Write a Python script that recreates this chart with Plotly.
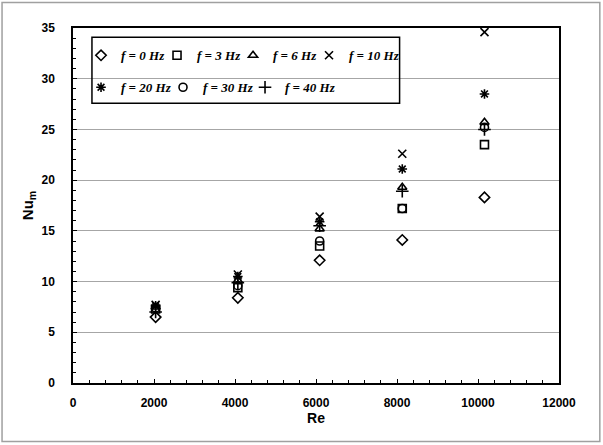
import plotly.graph_objects as go

# Data
re_values = [2040, 4070, 6090, 8130, 10160]
nu_f0 = [6.5, 8.4, 12.1, 14.1, 18.3]
nu_f3 = [7.3, 9.4, 13.5, 17.2, 23.5]
nu_f6 = [7.5, 10.1, 15.2, 19.3, 25.7]
nu_f10 = [7.7, 10.7, 16.4, 22.6, 34.6]
nu_f20 = [7.6, 10.5, 15.9, 21.1, 28.5]
nu_f30 = [7.4, 9.6, 14.0, 17.2, 25.2]
nu_f40 = [7.0, 9.9, 15.5, 18.9, 25.0]

series = [
    ("<i>f</i> = 0 Hz", nu_f0, "diamond-open", 8, "legend", 31),
    ("<i>f</i> = 3 Hz", nu_f3, "square-open", 8, "legend", 31),
    ("<i>f</i> = 6 Hz", nu_f6, "triangle-up-open", 8, "legend", 31),
    ("<i>f</i> = 10 Hz", nu_f10, "x-thin-open", 8, "legend", 62),
    ("<i>f</i> = 20 Hz", nu_f20, "asterisk-open", 8, "legend2", 37),
    ("<i>f</i> = 30 Hz", nu_f30, "circle-open", 8, "legend2", 37),
    ("<i>f</i> = 40 Hz", nu_f40, "cross-thin-open", 9, "legend2", 62),
]

fig = go.Figure()
for name, vals, sym, size, leg, lw in series:
    fig.add_trace(go.Scatter(
        x=re_values, y=vals, mode="markers", name=name, legend=leg, legendwidth=lw,
        marker=dict(symbol=sym, size=size, color="black",
                    line=dict(color="black", width=1.6)),
    ))

legend_font = dict(family="Liberation Serif", size=13, color="black",
                   weight="bold", style="italic")

fig.update_layout(
    width=603, height=445,
    margin=dict(l=73, r=44, t=28, b=62, autoexpand=False),
    paper_bgcolor="white", plot_bgcolor="white",
    font=dict(family="Liberation Sans", color="black"),
    showlegend=True,
    legend=dict(orientation="h", x=0.0165, xanchor="left", y=0.923, yanchor="middle",
                bgcolor="rgba(0,0,0,0)", borderwidth=0, font=legend_font,
                itemwidth=30, tracegroupgap=0),
    legend2=dict(orientation="h", x=0.0165, xanchor="left", y=0.833, yanchor="middle",
                 bgcolor="rgba(0,0,0,0)", borderwidth=0, font=legend_font,
                 itemwidth=30, tracegroupgap=0),
    xaxis=dict(range=[0, 12000], dtick=2000, tick0=0, tickformat="d", showgrid=False, zeroline=False,
               showline=True, linecolor="black", linewidth=1.5, mirror=True, automargin=False,
               ticks="inside", ticklen=4, tickcolor="black",
               minor=dict(dtick=400, ticks="inside", ticklen=3, tickcolor="black"),
               tickfont=dict(family="Liberation Sans", size=12, weight="bold"),
               ticklabelstandoff=8,
               title=dict(text="<b>Re</b>", font=dict(family="Liberation Sans", size=14), standoff=4)),
    yaxis=dict(range=[0, 35], dtick=5, tick0=0, showgrid=True, gridcolor="#a6a6a6", gridwidth=1.2,
               zeroline=False, showline=True, linecolor="black", linewidth=1.5, mirror=True,
               automargin=False,
               ticks="inside", ticklen=4, tickcolor="black",
               minor=dict(dtick=1, ticks="inside", ticklen=3, tickcolor="black", showgrid=False),
               tickfont=dict(family="Liberation Sans", size=12, weight="bold"),
               ticklabelstandoff=14,
               title=dict(text="<b>Nu<sub>m</sub></b>", font=dict(family="Liberation Sans", size=15), standoff=4)),
    shapes=[
        dict(type="rect", xref="paper", yref="paper", x0=0.039, x1=0.672, y0=0.788, y1=0.974,
             line=dict(color="black", width=1.5), fillcolor="rgba(0,0,0,0)", layer="above"),
        dict(type="rect", xref="paper", yref="paper", x0=-0.146, x1=1.084, y0=-0.165, y1=1.072,
             line=dict(color="#a0a0a0", width=1.5), fillcolor="rgba(0,0,0,0)", layer="below"),
    ],
)

fig.write_html("out.html", config={"displayModeBar": False},
               post_script="document.body.style.margin='0';")
